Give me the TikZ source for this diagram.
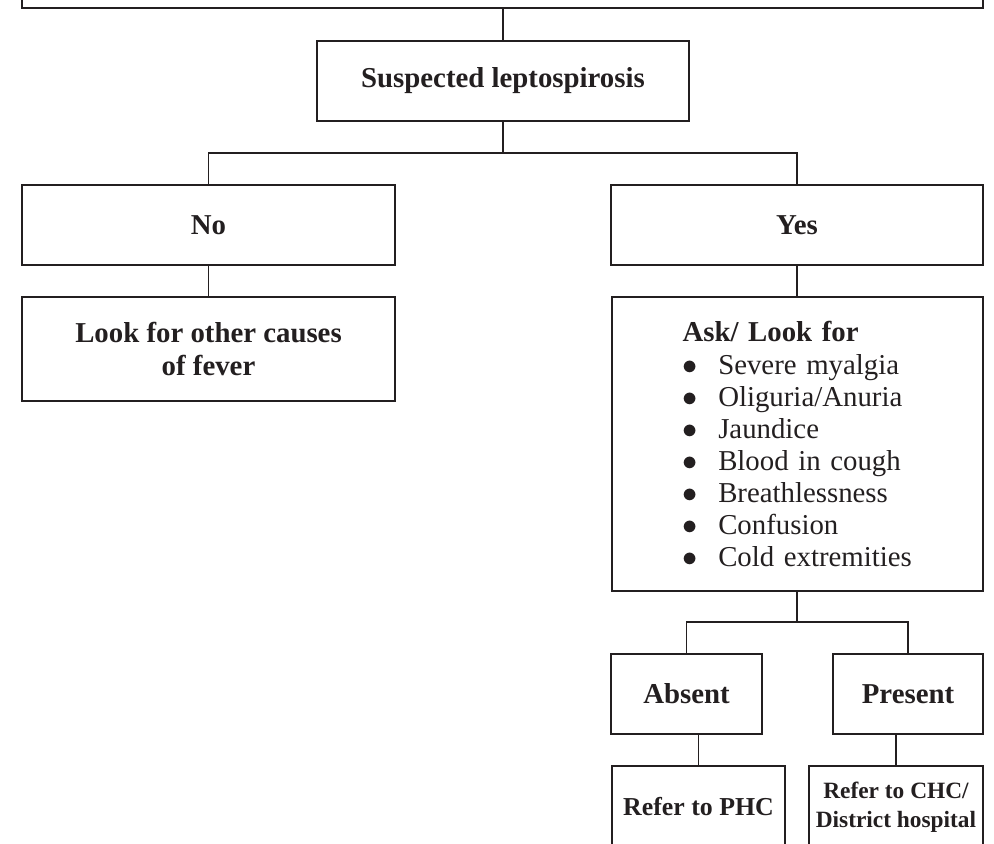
\documentclass[tikz,border=0pt]{standalone}
\usepackage{fontspec}
\setmainfont{Liberation Serif}
\usetikzlibrary{positioning}
\definecolor{ink}{RGB}{35,31,32}
\newcommand{\itembul}{\makebox[1.24em][l]{$\bullet$}}

\begin{document}
\begin{tikzpicture}[
x=0.02cm, y=-0.02cm,
box/.style={draw=ink, line width=1.1pt, text=ink, inner sep=0pt, align=center, font=\fontsize{16.4}{18.3}\selectfont\bfseries},
link/.style={draw=ink, line width=1.1pt},
]
\clip (0,0) rectangle (994,844);
\coordinate (fork) at (503,153);
\coordinate (askfork) at (797,622);
\node[box, minimum width=19.22cm, minimum height=1.76cm] (top) at (502.5,-36) {};
\node[box, minimum width=7.44cm, minimum height=1.6cm] (susp) at (503,81) {Suspected leptospirosis};
\node[box, minimum width=7.46cm, minimum height=1.6cm] (no) at (208.5,225) {No};
\node[box, minimum width=7.44cm, minimum height=1.6cm] (yes) at (797,225) {Yes};
\node[box, minimum width=7.46cm, minimum height=2.08cm] (other) at (208.5,349) {Look for other causes\\of fever};
\node[box, font=\fontsize{16.4}{18.3}\selectfont, align=left, text width=4.6cm,
  minimum width=7.42cm, minimum height=5.88cm] (ask) at (797.5,444)
  {\textbf{Ask/ Look for}\\[0.5pt]
   \itembul Severe myalgia\\
   \itembul Oliguria/Anuria\\
   \itembul Jaundice\\
   \itembul Blood in cough\\
   \itembul Breathlessness\\
   \itembul Confusion\\
   \itembul Cold extremities};
\node[box, minimum width=3.02cm, minimum height=1.6cm] (absent) at (686.5,694) {Absent};
\node[box, minimum width=3.0cm, minimum height=1.6cm] (present) at (908,694) {Present};
\node[box, font=\fontsize{14.7}{16.4}\selectfont\bfseries, minimum width=3.46cm, minimum height=1.64cm] (phc) at (698.5,807) {Refer to PHC};
\node[box, font=\fontsize{13.3}{16.4}\selectfont\bfseries, minimum width=3.48cm, minimum height=1.64cm] (chc) at (896,807) {Refer to CHC/\\District hospital};

\draw[link] (top.south -| susp.north) -- (susp.north);
\draw[link] (susp.south) -- (fork);
\draw[link] (no.north) |- (fork) -| (yes.north);
\draw[link] (no.south) -- (other.north);
\draw[link] (yes.south) -- (yes.south |- ask.north);
\draw[link] (ask.south -| askfork) -- (askfork);
\draw[link] (absent.north) |- (askfork) -| (present.north);
\draw[link] (absent.south -| phc.north) -- (phc.north);
\draw[link] (present.south -| chc.north) -- (chc.north);
\end{tikzpicture}
\end{document}
